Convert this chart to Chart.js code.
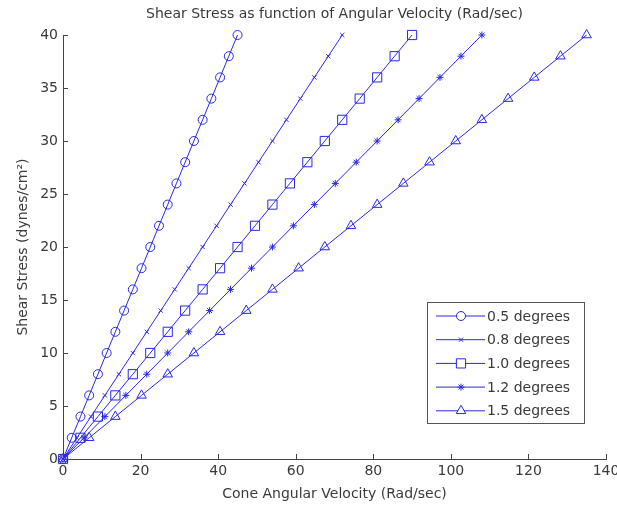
<!DOCTYPE html>
<html>
<head>
<meta charset="utf-8">
<script src="https://cdn.jsdelivr.net/npm/chart.js@4.4.1/dist/chart.umd.min.js"></script>
<style>
html,body{margin:0;padding:0;background:#fff;}
#wrap{width:617px;height:505px;}
</style>
</head>
<body>
<div id="wrap"><canvas id="c" width="617" height="505"></canvas></div>
<script>
const shearStress = [0,2,4,6,8,10,12,14,16,18,20,22,24,26,28,30,32,34,36,38,40];
const vel05 = [0,2.25,4.5,6.75,9,11.25,13.5,15.75,18,20.25,22.5,24.75,27,29.25,31.5,33.75,36,38.25,40.5,42.75,45];
const vel08 = [0,3.6,7.2,10.8,14.4,18,21.6,25.2,28.8,32.4,36,39.6,43.2,46.8,50.4,54,57.6,61.2,64.8,68.4,72];
const vel10 = [0,4.5,9,13.5,18,22.5,27,31.5,36,40.5,45,49.5,54,58.5,63,67.5,72,76.5,81,85.5,90];
const vel12 = [0,5.4,10.8,16.2,21.6,27,32.4,37.8,43.2,48.6,54,59.4,64.8,70.2,75.6,81,86.4,91.8,97.2,102.6,108];
const vel15 = [0,6.75,13.5,20.25,27,33.75,40.5,47.25,54,60.75,67.5,74.25,81,87.75,94.5,101.25,108,114.75,121.5,128.25,135];
const seriesLabels = ['0.5 degrees','0.8 degrees','1.0 degrees','1.2 degrees','1.5 degrees'];
const xTicks = [0,20,40,60,80,100,120,140];
const yTicks = [0,5,10,15,20,25,30,35,40];

const BLUE = 'rgb(40,40,230)';
const TXT = '#3a3a3a';
const FONT = "'DejaVu Sans', 'Liberation Sans', Arial, sans-serif";
const FS = 14;

function pts(xs){ return xs.map((x,i)=>({x:x,y:shearStress[i]})); }
const styles = [
  {ps:'circle', r:4.5},
  {ps:'crossRot', r:3},
  {ps:'rect', r:6.5},
  {ps:'star', r:3.5},
  {ps:'triangle', r:5.5}
];
const allVel = [vel05, vel08, vel10, vel12, vel15];
const datasets = allVel.map((v,i)=>({
  label: seriesLabels[i],
  data: pts(v),
  borderColor: BLUE,
  backgroundColor: 'rgba(0,0,0,0)',
  borderWidth: 1,
  pointStyle: styles[i].ps,
  pointRadius: styles[i].r,
  pointBorderWidth: 1,
  pointBorderColor: BLUE,
  pointBackgroundColor: 'rgba(0,0,0,0)',
  showLine: true,
  tension: 0,
  clip: false
}));

const decor = {
  id:'decor',
  afterDraw(chart){
    const ctx = chart.ctx;
    const a = chart.chartArea;
    const xs = chart.scales.x, ys = chart.scales.y;
    ctx.save();
    // inward ticks
    ctx.strokeStyle = '#444';
    ctx.lineWidth = 1;
    ctx.beginPath();
    xTicks.forEach(t=>{ const p=Math.round(xs.getPixelForValue(t))+0.5; ctx.moveTo(p,a.bottom); ctx.lineTo(p,a.bottom-5); });
    yTicks.forEach(t=>{ const p=Math.round(ys.getPixelForValue(t))+0.5; ctx.moveTo(a.left,p); ctx.lineTo(a.left+5,p); });
    ctx.stroke();
    // title
    ctx.fillStyle = TXT;
    ctx.font = FS + "px " + FONT;
    ctx.textAlign = 'center';
    ctx.textBaseline = 'middle';
    ctx.fillText('Shear Stress as function of Angular Velocity (Rad/sec)', (a.left+a.right)/2, 14);
    // legend
    const bx=427, by=302, bw=157, bh=121;
    ctx.fillStyle='#fff';
    ctx.fillRect(bx,by,bw,bh);
    ctx.strokeStyle='#555';
    ctx.strokeRect(bx+0.5,by+0.5,bw,bh);
    chart.data.datasets.forEach((ds,i)=>{
      const yy = by + 14 + i*23.7;
      ctx.strokeStyle = BLUE;
      ctx.lineWidth = 1;
      ctx.beginPath(); ctx.moveTo(436,yy); ctx.lineTo(485,yy); ctx.stroke();
      ctx.fillStyle = '#fff';
      ctx.strokeStyle = BLUE;
      Chart.helpers.drawPoint(ctx, {pointStyle: ds.pointStyle, radius: ds.pointRadius, borderWidth:1, rotation:0}, 461, yy);
      ctx.fillStyle = TXT;
      ctx.font = FS + "px " + FONT;
      ctx.textAlign='left';
      ctx.textBaseline='middle';
      ctx.fillText(ds.label, 487, yy+1);
    });
    ctx.restore();
  }
};

new Chart(document.getElementById('c'), {
  type:'scatter',
  data:{datasets},
  plugins:[decor],
  options:{
    responsive:false,
    animation:false,
    devicePixelRatio:1,
    layout:{padding:{top:35,right:11,left:0,bottom:0}},
    plugins:{legend:{display:false}, tooltip:{enabled:false}},
    scales:{
      x:{
        type:'linear', min:0, max:140,
        afterBuildTicks(s){ s.ticks = xTicks.map(v=>({value:v})); },
        afterFit(s){ s.height = 46; s.paddingRight = 0; s.paddingLeft = 0; },
        grid:{display:false, drawTicks:false},
        border:{display:true, color:'#444', width:1},
        ticks:{color:TXT, font:{family:FONT, size:FS}, padding:4, maxRotation:0},
        title:{display:true, text:'Cone Angular Velocity (Rad/sec)', color:TXT, font:{family:FONT,size:FS}, padding:{top:4,bottom:2}}
      },
      y:{
        type:'linear', min:0, max:40,
        afterBuildTicks(s){ s.ticks = yTicks.map(v=>({value:v})); },
        afterFit(s){ s.width = 63; s.paddingTop = 0; s.paddingBottom = 0; },
        grid:{display:false, drawTicks:false},
        border:{display:true, color:'#444', width:1},
        ticks:{color:TXT, font:{family:FONT, size:FS}, padding:5},
        title:{display:true, text:'Shear Stress (dynes/cm²)', color:TXT, font:{family:FONT,size:FS}, padding:{top:15,bottom:0}}
      }
    }
  }
});
</script>
</body>
</html>
